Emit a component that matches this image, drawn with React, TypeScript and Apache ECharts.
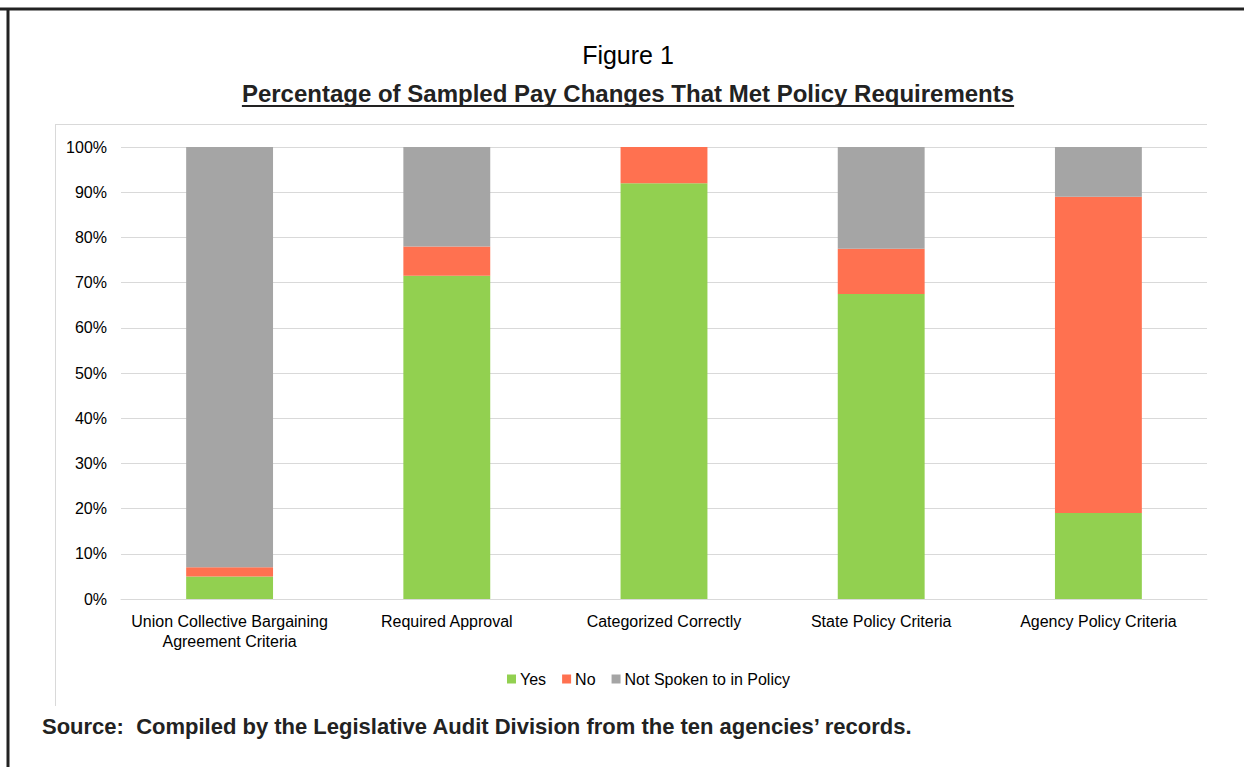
import React, { useEffect, useRef } from "react";
import * as echarts from "echarts";

const categories = [
  "Union Collective Bargaining\nAgreement Criteria",
  "Required Approval",
  "Categorized Correctly",
  "State Policy Criteria",
  "Agency Policy Criteria",
];
const yesValues = [5, 71.5, 92, 67.5, 19];
const noValues = [2, 6.5, 8, 10, 70];
const notSpokenValues = [93, 22, 0, 22.5, 11];
const seriesNames = ["Yes", "No", "Not Spoken to in Policy"];
const seriesColors = ["#92D050", "#FF7150", "#A5A5A5"];

const FONT = "'Liberation Sans Narrow', 'Arial Narrow', 'Liberation Sans', Arial, sans-serif";
const titleText = "Figure 1";
const subtitleText = "Percentage of Sampled Pay Changes That Met Policy Requirements";
const sourceText = "Source:  Compiled by the Legislative Audit Division from the ten agencies\u2019 records.";

function measure(text: string, font: string): number {
  const c = document.createElement("canvas");
  const ctx = c.getContext("2d");
  if (!ctx) return 0;
  ctx.font = font;
  return ctx.measureText(text).width;
}

export default function App() {
  const ref = useRef<HTMLDivElement>(null);
  useEffect(() => {
    if (!ref.current) return;
    const chart = echarts.init(ref.current, null, { renderer: "svg" });
    const subW = measure(subtitleText, "bold 24px " + FONT);
    const subCx = 628;
    const option: any = {
      animation: false,
      backgroundColor: "#ffffff",
      textStyle: { fontFamily: FONT },
      grid: { left: 121, right: 37, top: 147, bottom: 168, containLabel: false },
      legend: {
        data: seriesNames,
        top: 671,
        left: 507,
        padding: 0,
        itemWidth: 9,
        itemHeight: 9,
        itemGap: 16,
        icon: "rect",
        textStyle: { fontFamily: FONT, fontSize: 16, color: "#000", padding: [0, 0, 0, -1] },
      },
      xAxis: {
        type: "category",
        data: categories,
        axisLine: { show: true, lineStyle: { color: "#D9D9D9", width: 1 } },
        axisTick: { show: false },
        axisLabel: { fontFamily: FONT, fontSize: 16, color: "#000", margin: 12, lineHeight: 20, interval: 0 },
      },
      yAxis: {
        type: "value",
        min: 0,
        max: 100,
        interval: 10,
        axisLine: { show: false },
        axisTick: { show: false },
        splitLine: { lineStyle: { color: "#D9D9D9", width: 1 } },
        axisLabel: { fontFamily: FONT, fontSize: 16, color: "#000", margin: 14, formatter: "{value}%" },
      },
      series: [yesValues, noValues, notSpokenValues].map((d, i) => ({
        name: seriesNames[i],
        type: "bar",
        stack: "total",
        data: d,
        barWidth: "40%",
        itemStyle: { color: seriesColors[i] },
      })),
      graphic: [
        { type: "line", shape: { x1: 0, y1: 9, x2: 1244, y2: 9 }, style: { stroke: "#222", lineWidth: 3 } },
        { type: "line", shape: { x1: 8, y1: 8, x2: 8, y2: 767 }, style: { stroke: "#222", lineWidth: 3 } },
        { type: "line", shape: { x1: 55.5, y1: 124, x2: 55.5, y2: 706 }, style: { stroke: "#D9D9D9", lineWidth: 1 } },
        { type: "line", shape: { x1: 55, y1: 124.5, x2: 1207, y2: 124.5 }, style: { stroke: "#D9D9D9", lineWidth: 1 } },
        {
          type: "text",
          x: 628,
          y: 55,
          style: { text: titleText, fontFamily: FONT, fontSize: 25, fill: "#000", textAlign: "center", textVerticalAlign: "middle" },
        },
        {
          type: "text",
          x: subCx,
          y: 93,
          style: { text: subtitleText, fontFamily: FONT, fontSize: 24, fontWeight: "bold", fill: "#222", textAlign: "center", textVerticalAlign: "middle" },
        },
        {
          type: "line",
          shape: { x1: subCx - subW / 2, y1: 106, x2: subCx + subW / 2, y2: 106 },
          style: { stroke: "#222", lineWidth: 2 },
        },
        {
          type: "text",
          x: 42,
          y: 726,
          style: { text: sourceText, fontFamily: FONT, fontSize: 22, fontWeight: "bold", fill: "#222", textAlign: "left", textVerticalAlign: "middle" },
        },
      ],
    };
    chart.setOption(option);
    return () => chart.dispose();
  }, []);
  return <div ref={ref} style={{ position: "absolute", left: 0, top: 0, width: 1244, height: 767 }} />;
}
